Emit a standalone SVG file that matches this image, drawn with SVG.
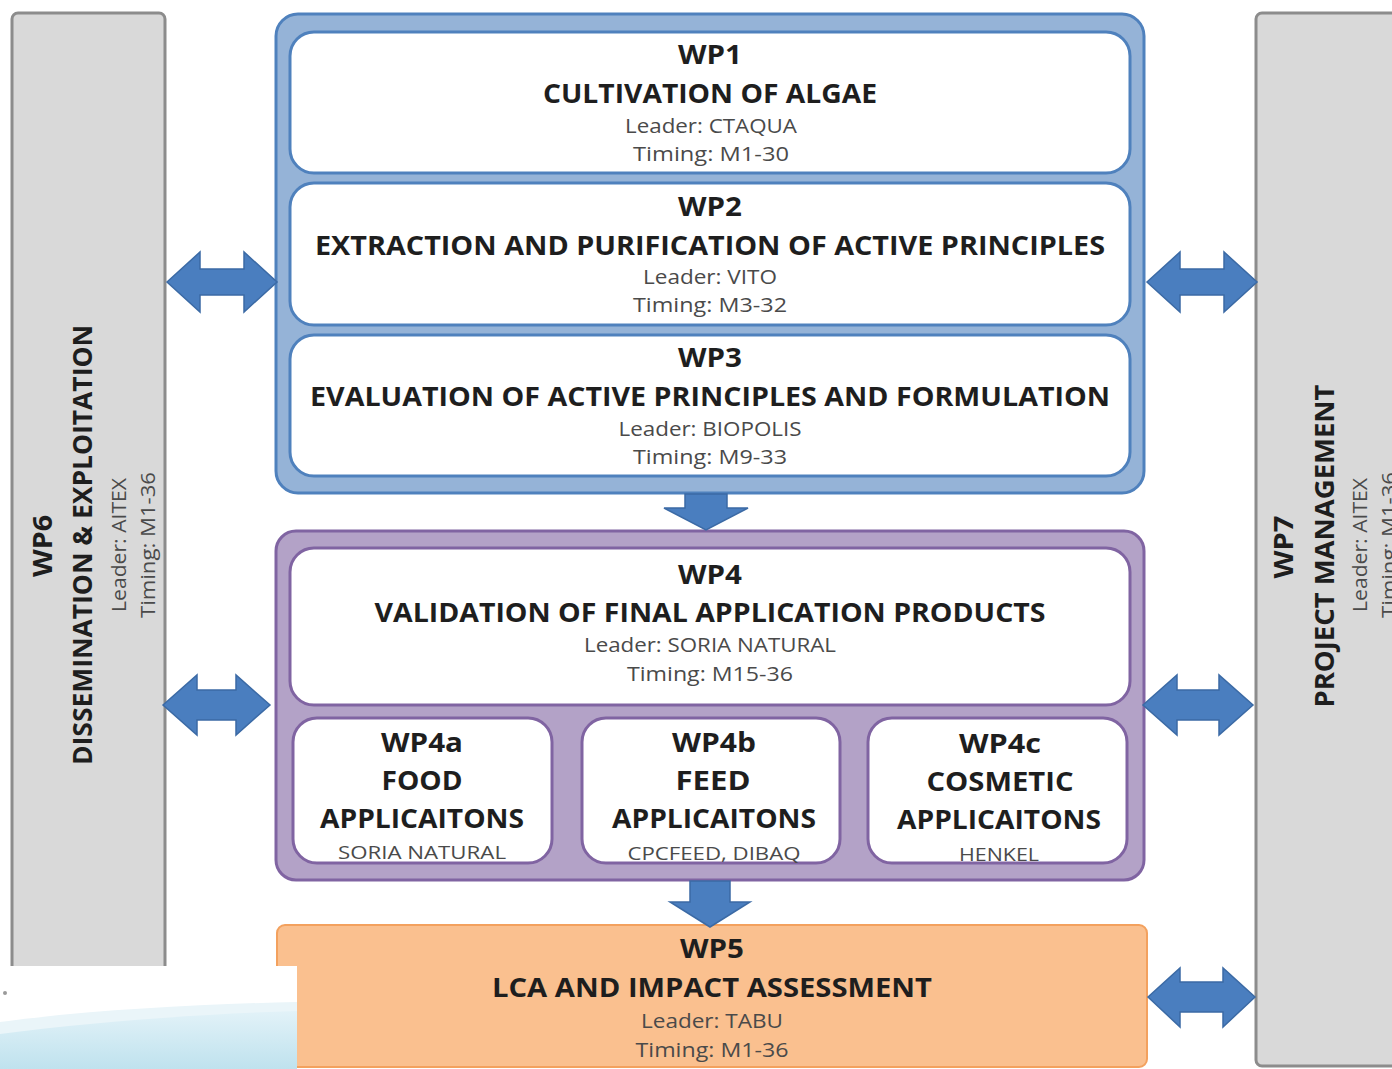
<svg xmlns="http://www.w3.org/2000/svg" width="1392" height="1069" viewBox="0 0 1392 1069">
<defs>
<style>
.side{fill:#d9d9d9;stroke:#8c8c8c;stroke-width:3}
.blue{fill:#95b3d7;stroke:#4f81bd;stroke-width:3}
.purple{fill:#b3a2c7;stroke:#8064a2;stroke-width:3}
.wb{fill:#ffffff;stroke:#4f81bd;stroke-width:3}
.wp{fill:#ffffff;stroke:#8064a2;stroke-width:3}
.orange{fill:#fac08f;stroke:#f3a15e;stroke-width:2}
.arr{fill:#4a7ebf;stroke:#3b6aa5;stroke-width:1.5}
text{font-family:"Open Sans","Noto Sans","Liberation Sans",sans-serif;text-anchor:middle}
.h{font-weight:700;font-size:26px;fill:#1e1e1e}
.s{font-size:20px;fill:#4a4a4a}
.ss{font-size:19px;fill:#4a4a4a}
</style>
<linearGradient id="wave" x1="0" y1="0" x2="0" y2="1">
<stop offset="0" stop-color="#e2f2f8"/>
<stop offset="1" stop-color="#bfe2ee"/>
</linearGradient>
</defs>

<g id="wp6">
<rect class="side" x="12" y="13" width="153" height="1070" rx="6"/>
<text class="h" transform="translate(52,546) rotate(-90)" textLength="62" lengthAdjust="spacingAndGlyphs">WP6</text>
<text class="h" transform="translate(92,545) rotate(-90)" textLength="440" lengthAdjust="spacingAndGlyphs">DISSEMINATION &amp; EXPLOITATION</text>
<text class="s" transform="translate(126,545) rotate(-90)" textLength="134" lengthAdjust="spacingAndGlyphs">Leader: AITEX</text>
<text class="s" transform="translate(155,545) rotate(-90)" textLength="146" lengthAdjust="spacingAndGlyphs">Timing: M1-36</text>
</g>

<g id="wp7">
<rect class="side" x="1256" y="13" width="160" height="1053" rx="6"/>
<text class="h" transform="translate(1293,547) rotate(-90)" textLength="63" lengthAdjust="spacingAndGlyphs">WP7</text>
<text class="h" transform="translate(1334,546) rotate(-90)" textLength="323" lengthAdjust="spacingAndGlyphs">PROJECT MANAGEMENT</text>
<text class="s" transform="translate(1367,545) rotate(-90)" textLength="134" lengthAdjust="spacingAndGlyphs">Leader: AITEX</text>
<text class="s" transform="translate(1396,545) rotate(-90)" textLength="146" lengthAdjust="spacingAndGlyphs">Timing: M1-36</text>
</g>

<g id="group-blue">
<rect class="blue" x="276" y="14" width="868" height="479" rx="22"/>
</g>

<g id="wp1">
<rect class="wb" x="290" y="32" width="840" height="141" rx="24"/>
<text class="h" x="710" y="64" textLength="64" lengthAdjust="spacingAndGlyphs">WP1</text>
<text class="h" x="710" y="103" textLength="334" lengthAdjust="spacingAndGlyphs">CULTIVATION OF ALGAE</text>
<text class="s" x="711" y="133" textLength="172" lengthAdjust="spacingAndGlyphs">Leader: CTAQUA</text>
<text class="s" x="711" y="161" textLength="156" lengthAdjust="spacingAndGlyphs">Timing: M1-30</text>
</g>

<g id="wp2">
<rect class="wb" x="290" y="183" width="840" height="142" rx="24"/>
<text class="h" x="710" y="216" textLength="64" lengthAdjust="spacingAndGlyphs">WP2</text>
<text class="h" x="710" y="255" textLength="790" lengthAdjust="spacingAndGlyphs">EXTRACTION AND PURIFICATION OF ACTIVE PRINCIPLES</text>
<text class="s" x="710" y="284" textLength="134" lengthAdjust="spacingAndGlyphs">Leader: VITO</text>
<text class="s" x="710" y="312" textLength="154" lengthAdjust="spacingAndGlyphs">Timing: M3-32</text>
</g>

<g id="wp3">
<rect class="wb" x="290" y="335" width="840" height="141" rx="24"/>
<text class="h" x="710" y="367" textLength="64" lengthAdjust="spacingAndGlyphs">WP3</text>
<text class="h" x="710" y="406" textLength="800" lengthAdjust="spacingAndGlyphs">EVALUATION OF ACTIVE PRINCIPLES AND FORMULATION</text>
<text class="s" x="710" y="436" textLength="183" lengthAdjust="spacingAndGlyphs">Leader: BIOPOLIS</text>
<text class="s" x="710" y="464" textLength="154" lengthAdjust="spacingAndGlyphs">Timing: M9-33</text>
</g>

<g id="group-purple">
<rect class="purple" x="276" y="531" width="868" height="349" rx="20"/>
</g>

<g id="wp4">
<rect class="wp" x="290" y="548" width="840" height="157" rx="24"/>
<text class="h" x="710" y="584" textLength="64" lengthAdjust="spacingAndGlyphs">WP4</text>
<text class="h" x="710" y="622" textLength="671" lengthAdjust="spacingAndGlyphs">VALIDATION OF FINAL APPLICATION PRODUCTS</text>
<text class="s" x="710" y="652" textLength="252" lengthAdjust="spacingAndGlyphs">Leader: SORIA NATURAL</text>
<text class="s" x="710" y="681" textLength="166" lengthAdjust="spacingAndGlyphs">Timing: M15-36</text>
</g>

<g id="wp4a">
<rect class="wp" x="293" y="718" width="259" height="145" rx="24"/>
<text class="h" x="422" y="752" textLength="82" lengthAdjust="spacingAndGlyphs">WP4a</text>
<text class="h" x="422" y="790" textLength="81" lengthAdjust="spacingAndGlyphs">FOOD</text>
<text class="h" x="422" y="828" textLength="204" lengthAdjust="spacingAndGlyphs">APPLICAITONS</text>
<text class="ss" x="422" y="859" textLength="168" lengthAdjust="spacingAndGlyphs">SORIA NATURAL</text>
</g>

<g id="wp4b">
<rect class="wp" x="582" y="718" width="258" height="145" rx="24"/>
<text class="h" x="714" y="752" textLength="84" lengthAdjust="spacingAndGlyphs">WP4b</text>
<text class="h" x="713" y="790" textLength="75" lengthAdjust="spacingAndGlyphs">FEED</text>
<text class="h" x="714" y="828" textLength="204" lengthAdjust="spacingAndGlyphs">APPLICAITONS</text>
<text class="ss" x="714" y="860" textLength="173" lengthAdjust="spacingAndGlyphs">CPCFEED, DIBAQ</text>
</g>

<g id="wp4c">
<rect class="wp" x="868" y="718" width="259" height="145" rx="24"/>
<text class="h" x="1000" y="753" textLength="82" lengthAdjust="spacingAndGlyphs">WP4c</text>
<text class="h" x="1000" y="791" textLength="147" lengthAdjust="spacingAndGlyphs">COSMETIC</text>
<text class="h" x="999" y="829" textLength="204" lengthAdjust="spacingAndGlyphs">APPLICAITONS</text>
<text class="ss" x="999" y="861" textLength="80" lengthAdjust="spacingAndGlyphs">HENKEL</text>
</g>

<g id="wp5">
<rect class="orange" x="277" y="925" width="870" height="142" rx="8"/>
<text class="h" x="712" y="958" textLength="64" lengthAdjust="spacingAndGlyphs">WP5</text>
<text class="h" x="712" y="997" textLength="440" lengthAdjust="spacingAndGlyphs">LCA AND IMPACT ASSESSMENT</text>
<text class="s" x="712" y="1028" textLength="142" lengthAdjust="spacingAndGlyphs">Leader: TABU</text>
<text class="s" x="712" y="1057" textLength="153" lengthAdjust="spacingAndGlyphs">Timing: M1-36</text>
</g>

<g id="connectors">
<path class="arr" d="M167,282 L200,252 L200,269 L244,269 L244,252 L277,282 L244,312 L244,295 L200,295 L200,312 Z"/>
<path class="arr" d="M163,705 L197,675 L197,690 L236,690 L236,675 L270,705 L236,735 L236,720 L197,720 L197,735 Z"/>
<path class="arr" d="M1147,282 L1180,252 L1180,269 L1224,269 L1224,252 L1257,282 L1224,312 L1224,295 L1180,295 L1180,312 Z"/>
<path class="arr" d="M1143,705 L1177,675 L1177,690 L1219,690 L1219,675 L1253,705 L1219,735 L1219,720 L1177,720 L1177,735 Z"/>
<path class="arr" d="M1148,997 L1180,968 L1180,982 L1223,982 L1223,968 L1255,997 L1223,1027 L1223,1012 L1180,1012 L1180,1027 Z"/>
<path class="arr" d="M685,494 L727,494 L727,508 L748,508 L706,530 L664,508 L685,508 Z"/>
<path class="arr" d="M690,881 L730,881 L730,902 L750,902 L710,927 L670,902 L690,902 Z"/>
</g>

<g id="logo">
<rect x="0" y="966" width="297" height="103" fill="#ffffff"/>
<path d="M0,1022 C90,1010 200,1004 297,1002 L297,1069 L0,1069 Z" fill="#eaf5f9"/>
<path d="M0,1034 C90,1022 200,1014 297,1011 L297,1069 L0,1069 Z" fill="url(#wave)"/>
<circle cx="5" cy="993" r="2" fill="#9a9a9a"/>
</g>
</svg>
